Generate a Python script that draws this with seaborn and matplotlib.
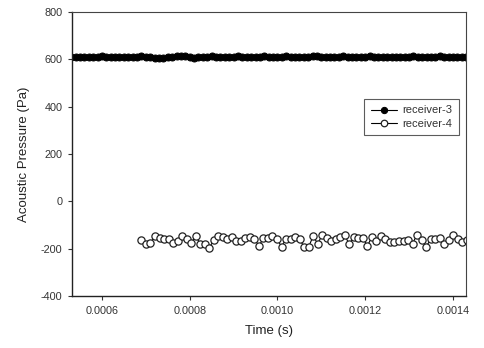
import numpy as np
import pandas as pd
import matplotlib
matplotlib.use("Agg")
import matplotlib.pyplot as plt
from matplotlib.ticker import FormatStrFormatter
import seaborn as sns

# receiver-3: sampled every 1e-5 s from 0.00053 s
r3_start, r3_step = 0.00053, 1.0e-5
r3_vals = [609, 610, 611, 610, 609, 610, 611, 612, 610, 609,
           610, 611, 610, 609, 610, 611, 612, 611, 609, 607,
           604, 606, 609, 611, 613, 614, 612, 610, 607, 608,
           610, 611, 612, 611, 610, 609, 610, 611, 612, 611,
           610, 609, 610, 611, 612, 610, 609, 610, 611, 612,
           611, 610, 609, 610, 611, 612, 613, 611, 610, 609,
           610, 611, 612, 611, 610, 609, 610, 611, 612, 611,
           610, 609, 610, 611, 610, 609, 610, 611, 612, 611,
           610, 609, 610, 611, 612, 611, 610, 609, 610, 611, 610]

# receiver-4: sampled every 1.03e-5 s from 0.00069 s
r4_start, r4_step = 0.00069, 1.03e-5
r4_vals = [-165, -179, -176, -148, -154, -158, -161, -176, -169, -148,
           -158, -176, -148, -179, -179, -197, -165, -147, -151, -161,
           -151, -168, -169,
           -155, -151, -158, -190, -155, -155, -148, -158, -193, -158,
           -161, -151, -161, -193, -193, -148, -179, -144, -155, -169,
           -158, -151, -144, -183, -151, -155, -155, -189, -151, -169,
           -147, -158, -172, -172, -169, -169, -165, -179, -141, -165,
           -193, -161, -158, -155, -179, -165, -144, -158, -172, -165]

t3 = r3_start + r3_step * np.arange(len(r3_vals))
t4 = r4_start + r4_step * np.arange(len(r4_vals))
df3 = pd.DataFrame({"Time": t3, "Pressure": r3_vals})
df4 = pd.DataFrame({"Time": t4, "Pressure": r4_vals})

sns.set_style("ticks")
plt.rcParams["font.family"] = ["Liberation Sans", "DejaVu Sans"]
plt.rcParams["axes.unicode_minus"] = False

fig = plt.figure(figsize=(4.84, 3.48), dpi=100)
ax = fig.add_axes([0.149, 0.150, 0.814, 0.8155])

sns.lineplot(ax=ax, data=df3, x="Time", y="Pressure", color="black", lw=0.8,
             marker="o", markersize=5, markerfacecolor="black",
             markeredgecolor="black", label="receiver-3")
sns.lineplot(ax=ax, data=df4, x="Time", y="Pressure", color="black", lw=0.8,
             marker="o", markersize=5.2, markerfacecolor="white",
             markeredgecolor="#222222", markeredgewidth=0.9, label="receiver-4")

ax.set_xlim(0.000532, 0.001430)
ax.set_ylim(-400, 800)
ax.set_xticks([0.0006, 0.0008, 0.0010, 0.0012, 0.0014])
ax.set_yticks([-400, -200, 0, 200, 400, 600, 800])
ax.xaxis.set_major_formatter(FormatStrFormatter("%.4f"))
ax.tick_params(axis="both", labelsize=7.8, colors="#333333", length=3, width=0.8,
               direction="out", pad=4)
ax.tick_params(axis="both", labelcolor="#333333")

for s in ["left", "bottom"]:
    ax.spines[s].set_color("#222222")
    ax.spines[s].set_linewidth(1.0)
for s in ["top", "right"]:
    ax.spines[s].set_color("#444444")
    ax.spines[s].set_linewidth(0.8)

ax.set_xlabel("Time (s)", fontsize=9.5, color="#222222", labelpad=7)
ax.set_ylabel("Acoustic Pressure (Pa)", fontsize=9.5, color="#222222", labelpad=8)

leg = ax.legend(loc="upper left", bbox_to_anchor=(0.728, 0.714), fontsize=8,
                frameon=True, fancybox=False, handlelength=2.3, markerscale=0.9,
                borderpad=0.6, labelspacing=0.3, handletextpad=0.5)
leg.get_frame().set_edgecolor("#333333")
leg.get_frame().set_linewidth(0.8)
for t in leg.get_texts():
    t.set_color("#333333")

fig.savefig("out.png", dpi=100, facecolor="white")
